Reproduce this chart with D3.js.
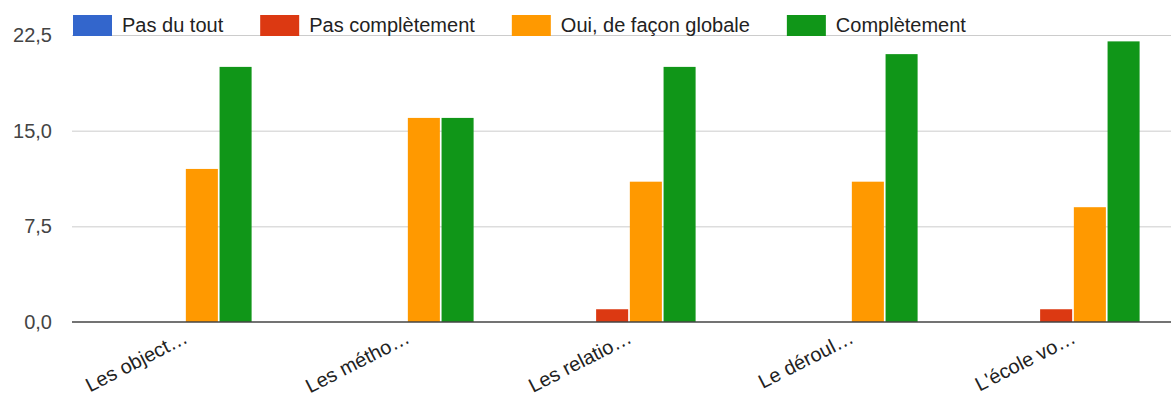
<!DOCTYPE html>
<html>
<head>
<meta charset="utf-8">
<script src="https://cdn.jsdelivr.net/npm/d3@7"></script>
<style>
  body { margin: 0; background: #fff; }
  svg { display: block; font-family: "Liberation Sans", Arial, Helvetica, sans-serif; }
</style>
</head>
<body>
<svg id="chart" width="1171" height="399"></svg>
<script>
// Survey answers per question, one array per answer choice
const categories = ["Les object\u2026", "Les métho\u2026", "Les relatio\u2026", "Le déroul\u2026", "L'école vo\u2026"];
const seriesNames = ["Pas du tout", "Pas complètement", "Oui, de façon globale", "Complètement"];
const pasDuTout = [0, 0, 0, 0, 0];
const pasCompletement = [0, 0, 1, 0, 1];
const ouiGlobale = [12, 16, 11, 11, 9];
const completement = [20, 16, 20, 21, 22];
const yTicks = [0, 7.5, 15, 22.5];
const colors = ["#3366cc", "#dc3912", "#ff9900", "#109618"];

const seriesValues = [pasDuTout, pasCompletement, ouiGlobale, completement];
const rows = categories.map((c, i) => ({
  category: c,
  values: seriesNames.map((s, j) => ({ series: s, idx: j, value: seriesValues[j][i] }))
}));

const svg = d3.select("#chart");
const W = 1171;
const plotLeft = 72;

const x0 = d3.scaleBand().domain(categories).range([74, 1184]).paddingInner(0.4).paddingOuter(0.2);
const x1 = d3.scaleBand().domain(seriesNames).range([0, x0.bandwidth()]).paddingInner(0.05);
const y = d3.scaleLinear().domain([0, 22.5]).range([322, 35]);

const fr = d3.formatLocale({ decimal: ",", thousands: " ", grouping: [3], currency: ["", "€"] });
const fmt = fr.format(".1f");

// Gridlines and value labels
const yAxis = svg.append("g")
  .attr("transform", `translate(${plotLeft},0)`)
  .call(d3.axisLeft(y).tickValues(yTicks).tickFormat(fmt).tickSize(-(W - plotLeft)).tickPadding(20));
yAxis.select(".domain").remove();
yAxis.selectAll(".tick line")
  .attr("stroke", d => d === 0 ? "none" : "#cccccc")
  .attr("stroke-width", 1);
yAxis.selectAll(".tick text")
  .attr("font-size", 20)
  .attr("fill", "#444")
  .attr("font-family", null);

// Bars
const groups = svg.append("g").selectAll("g")
  .data(rows).join("g")
  .attr("transform", d => `translate(${x0(d.category)},0)`);
groups.selectAll("rect")
  .data(d => d.values.filter(v => v.value > 0))
  .join("rect")
  .attr("x", d => x1(d.series))
  .attr("width", x1.bandwidth())
  .attr("y", d => y(d.value))
  .attr("height", d => y(0) - y(d.value))
  .attr("fill", d => colors[d.idx]);

// Baseline
svg.append("line")
  .attr("x1", plotLeft).attr("x2", W)
  .attr("y1", y(0)).attr("y2", y(0))
  .attr("stroke", "#444").attr("stroke-width", 1.5);

// Category labels, slanted
const xAxis = svg.append("g")
  .attr("transform", `translate(0,${y(0)})`)
  .call(d3.axisBottom(x0).tickSize(0));
xAxis.select(".domain").remove();
xAxis.selectAll(".tick text")
  .attr("font-size", 20)
  .attr("font-family", null)
  .attr("fill", "#222")
  .attr("text-anchor", "end")
  .attr("x", 0).attr("y", 0).attr("dy", 0)
  .attr("transform", "translate(4,20) rotate(-27)");

// Legend
const legend = svg.append("g");
let lx = 73;
seriesNames.forEach((name, i) => {
  legend.append("rect")
    .attr("x", lx).attr("y", 15)
    .attr("width", 39).attr("height", 21)
    .attr("fill", colors[i]);
  const t = legend.append("text")
    .attr("x", lx + 49).attr("y", 32)
    .attr("font-size", 20)
    .attr("fill", "#222")
    .text(name);
  lx += 49 + t.node().getComputedTextLength() + 37;
});
</script>
</body>
</html>
